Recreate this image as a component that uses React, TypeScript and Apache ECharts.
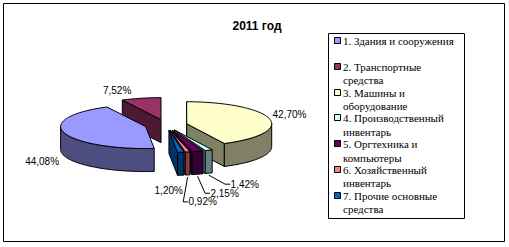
import React, { useEffect, useRef } from "react";
import * as echarts from "echarts";

const TITLE = "2011 год";
const CATEGORIES = [
  "1. Здания и сооружения",
  "2. Транспортные\nсредства",
  "3. Машины и\nоборудование",
  "4. Производственный\nинвентарь",
  "5. Оргтехника и\nкомпьютеры",
  "6. Хозяйственный\nинвентарь",
  "7. Прочие основные\nсредства",
];
const VALUES = [44.08, 7.52, 42.7, 1.42, 2.15, 0.92, 1.2];
const COLORS = ["#9999FF", "#993366", "#FFFFCC", "#CCFFFF", "#660066", "#FF8080", "#0066CC"];
const LEADER = [false, false, false, true, true, true, false];
// label offsets relative to the slice's exploded mid-rim point
const LABEL_OFFSETS = [
  [-22, 29],
  [-24, -8],
  [20, -4],
  [36, 34],
  [27, 42],
  [15, 50],
  [-12, 38],
];

// pie geometry (style/layout)
const CX = 166;
const CY = 125;
const RX = 85;
const RY = 22;
const H = 23;
const EXPLODE = 0.25;
const FIRST_ANGLE = 174.2;

const rad = (d: number) => (d * Math.PI) / 180;

function shade(hex: string, k: number) {
  const n = parseInt(hex.slice(1), 16);
  const r = Math.round(((n >> 16) & 255) * k);
  const g = Math.round(((n >> 8) & 255) * k);
  const b = Math.round((n & 255) * k);
  return `rgb(${r},${g},${b})`;
}

function fmt(v: number) {
  return v.toFixed(2).replace(".", ",") + "%";
}

export default function App() {
  const ref = useRef<HTMLDivElement>(null);
  useEffect(() => {
    if (!ref.current) return;
    const chart = echarts.init(ref.current, undefined, { renderer: "svg" });
    const total = VALUES.reduce((a, b) => a + b, 0);
    const starts: number[] = [];
    let cum = 0;
    VALUES.forEach((v) => {
      starts.push(FIRST_ANGLE + (cum / total) * 360);
      cum += v;
    });
    const mids = VALUES.map((v, i) => starts[i] + ((v / total) * 360) / 2);
    const depth = mids.map((m) => -Math.cos(rad(m)));
    const order = depth.map((d, i) => i).sort((a, b) => depth[a] - depth[b]);
    const rank: number[] = [];
    order.forEach((idx, r) => (rank[idx] = r));

    const renderItem = (params: any, api: any) => {
      const i = params.dataIndex;
      const v = api.value(0);
      const span = (v / total) * 360;
      const a = starts[i] % 360;
      const b = a + span;
      const mid = a + span / 2;
      const ox = EXPLODE * RX * Math.sin(rad(mid));
      const oy = -EXPLODE * RY * Math.cos(rad(mid));
      const P = (th: number, r: number, z: number) => [
        CX + ox + RX * r * Math.sin(rad(th)),
        CY + oy - RY * r * Math.cos(rad(th)) + z,
      ];
      const arc = (from: number, to: number, z: number) => {
        const n = Math.max(2, Math.ceil((to - from) / 2));
        const pts: number[][] = [];
        for (let k = 0; k <= n; k++) pts.push(P(from + ((to - from) * k) / n, 1, z));
        return pts;
      };
      const base = rank[i] * 10;
      const fill = COLORS[i];
      const side = shade(fill, 0.5);
      const children: any[] = [];
      const stroke = { stroke: "#000", lineWidth: 1, lineJoin: "round" };
      const sinA = Math.sin(rad(a));
      const sinB = Math.sin(rad(b));
      const apexT = P(0, 0, 0);
      const apexB = P(0, 0, H);
      if (sinA < -1e-6) {
        children.push({
          type: "polygon",
          z2: base + 1,
          shape: { points: [apexT, P(a, 1, 0), P(a, 1, H), apexB] },
          style: { fill: side, ...stroke },
        });
      }
      if (sinB > 1e-6) {
        children.push({
          type: "polygon",
          z2: base + 1,
          shape: { points: [apexT, P(b, 1, 0), P(b, 1, H), apexB] },
          style: { fill: side, ...stroke },
        });
      }
      [[90, 270], [450, 630]].forEach(([f0, f1]) => {
        const s = Math.max(a, f0);
        const e = Math.min(b, f1);
        if (e > s + 0.01) {
          const top = arc(s, e, 0);
          const bot = arc(s, e, H).reverse();
          children.push({
            type: "polygon",
            z2: base + 2,
            shape: { points: top.concat(bot) },
            style: { fill: side, ...stroke },
          });
        }
      });
      children.push({
        type: "polygon",
        z2: base + 3,
        shape: { points: [apexT].concat(arc(a, b, 0)) },
        style: { fill, ...stroke },
      });
      const rim = P(mid, 1, 0);
      const lx = rim[0] + LABEL_OFFSETS[i][0];
      const ly = rim[1] + LABEL_OFFSETS[i][1];
      const text = fmt(v);
      children.push({
        type: "text",
        z2: 200,
        x: lx,
        y: ly,
        style: {
          text,
          fill: "#000",
          fontFamily: "Liberation Sans",
          fontSize: 10,
          align: "center",
          verticalAlign: "middle",
        },
      });
      if (LEADER[i]) {
        const w = text.length * 5.4;
        const bottom = P(mid, 1, H);
        children.push({
          type: "polyline",
          z2: 200,
          shape: {
            points: [
              [bottom[0], bottom[1] + 2],
              [lx - w / 2 - 6, ly],
              [lx - w / 2 - 1, ly],
            ],
          },
          style: { stroke: "#000", lineWidth: 1, fill: null },
        });
      }
      return { type: "group", children };
    };

    const legend: any[] = [
      {
        type: "rect",
        shape: { x: 328.5, y: 33.5, width: 136, height: 185 },
        style: { fill: "#fff", stroke: "#000", lineWidth: 1 },
      },
    ];
    CATEGORIES.forEach((c, i) => {
      const yc = 41 + i * 25.8;
      legend.push({
        type: "rect",
        shape: { x: 334.5, y: Math.round(yc) - 3.5, width: 6, height: 6 },
        style: { fill: COLORS[i], stroke: "#000", lineWidth: 1 },
      });
      legend.push({
        type: "text",
        x: 343,
        y: yc - 6.6,
        style: {
          text: c,
          fill: "#000",
          fontFamily: "'Liberation Serif', 'DejaVu Serif', serif",
          fontSize: 11,
          lineHeight: 13.3,
          verticalAlign: "top",
        },
      });
    });

    chart.setOption({
      animation: false,
      backgroundColor: "#fff",
      title: {
        text: TITLE,
        left: 252,
        textAlign: "center",
        top: 15,
        textStyle: {
          fontFamily: "Liberation Sans",
          fontSize: 12,
          fontWeight: "bold",
          color: "#000",
        },
      },
      graphic: [
        {
          type: "rect",
          shape: { x: 3.5, y: 3.5, width: 501, height: 238 },
          style: { fill: "none", stroke: "#000", lineWidth: 1 },
          z: -1,
        },
        ...legend,
      ],
      series: [
        {
          type: "custom",
          coordinateSystem: "none",
          data: VALUES.map((v, i) => ({ value: [v, i], name: CATEGORIES[i] })),
          renderItem,
        },
      ],
    });
    return () => chart.dispose();
  }, []);
  return (
    <div
      ref={ref}
      style={{ position: "fixed", left: 0, top: 0, width: 509, height: 247 }}
    />
  );
}
